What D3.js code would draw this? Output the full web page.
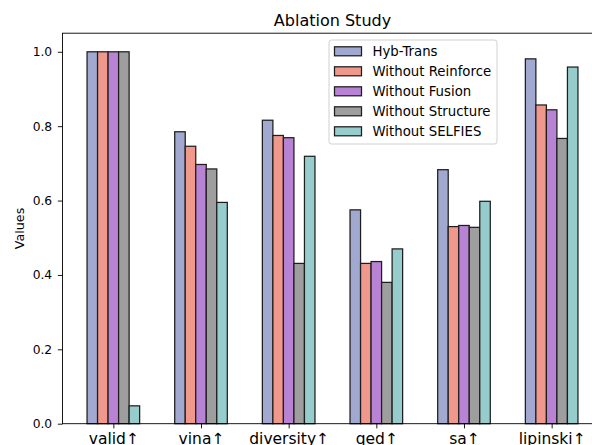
<!DOCTYPE html>
<html>
<head>
<meta charset="utf-8">
<script src="https://cdn.jsdelivr.net/npm/d3@7"></script>
<style>
  html, body { margin: 0; padding: 0; background: #fff; }
  svg { display: block; font-family: "DejaVu Sans", sans-serif; }
</style>
</head>
<body>
<svg id="chart" width="592" height="445"></svg>
<script>
const categories = ["valid↑", "vina↑", "diversity↑", "qed↑", "sa↑", "lipinski↑"];
const seriesNames = ["Hyb-Trans", "Without Reinforce", "Without Fusion", "Without Structure", "Without SELFIES"];
const hybTrans        = [1.000, 0.785, 0.816, 0.575, 0.683, 0.981];
const withoutReinforce= [1.000, 0.746, 0.775, 0.431, 0.530, 0.857];
const withoutFusion   = [1.000, 0.697, 0.769, 0.436, 0.533, 0.844];
const withoutStructure= [1.000, 0.685, 0.431, 0.380, 0.528, 0.767];
const withoutSelfies  = [0.048, 0.595, 0.719, 0.470, 0.598, 0.959];
const yTicks = [0.0, 0.2, 0.4, 0.6, 0.8, 1.0];
const colors = ["#A1A9D0", "#F0988C", "#B883D4", "#9E9E9E", "#96CCCB"];

const series = [hybTrans, withoutReinforce, withoutFusion, withoutStructure, withoutSelfies];
const barW = 0.12;

const svg = d3.select("#chart");
const mLeft = 62.5, mRight = 602.5, mTop = 33.2, mBottom = 423.7;

const x = d3.scaleLinear().domain([-0.58, categories.length - 1 + 0.58]).range([mLeft, mRight]);
const y = d3.scaleLinear().domain([0, 1.05]).range([mBottom, mTop]);

// bars
series.forEach((vals, si) => {
  svg.append("g").selectAll("rect")
    .data(vals)
    .join("rect")
    .attr("x", (d, i) => x(i + (si - 2) * barW - barW / 2))
    .attr("width", x(barW) - x(0))
    .attr("y", d => y(d))
    .attr("height", d => y(0) - y(d))
    .attr("fill", colors[si])
    .attr("stroke", "#1e1e1e")
    .attr("stroke-width", 1.25);
});

// axes
const yAxis = d3.axisLeft(y).tickValues(yTicks).tickFormat(d3.format(".1f")).tickSizeOuter(0).tickSize(4.7).tickPadding(5.6);
const gy = svg.append("g").attr("transform", `translate(${mLeft},0)`).call(yAxis);
gy.select(".domain").remove();
gy.selectAll("text").attr("font-size", "12.3px").attr("fill", "#000").attr("font-family", "DejaVu Sans, sans-serif");
gy.selectAll("line").attr("stroke", "#000").attr("stroke-width", 0.9);

const xAxis = d3.axisBottom(x).tickValues(d3.range(categories.length)).tickFormat(i => categories[i]).tickSizeOuter(0).tickSize(4.7).tickPadding(4.5);
const gx = svg.append("g").attr("transform", `translate(0,${mBottom})`).call(xAxis);
gx.select(".domain").remove();
gx.selectAll("text")
  .attr("font-size", "15.5px").attr("fill", "#000").attr("font-family", "DejaVu Sans, sans-serif")
  .attr("dy", null).attr("y", 20.5);
gx.selectAll("line").attr("stroke", "#000").attr("stroke-width", 0.9);

// frame
svg.append("rect")
  .attr("x", mLeft).attr("y", mTop)
  .attr("width", mRight - mLeft).attr("height", mBottom - mTop)
  .attr("fill", "none").attr("stroke", "#000").attr("stroke-width", 0.9);

// title
svg.append("text")
  .attr("x", (mLeft + mRight) / 2).attr("y", 25.5)
  .attr("text-anchor", "middle")
  .attr("font-size", "16px")
  .text("Ablation Study");

// y label
svg.append("text")
  .attr("transform", `translate(23.5,${(mTop + mBottom) / 2}) rotate(-90)`)
  .attr("text-anchor", "middle")
  .attr("font-size", "12.7px")
  .text("Values");

// legend
const lg = svg.append("g");
lg.append("rect")
  .attr("x", 329).attr("y", 40).attr("width", 168).attr("height", 104)
  .attr("rx", 2.5).attr("ry", 2.5)
  .attr("fill", "#fff").attr("fill-opacity", 0.8)
  .attr("stroke", "#d0d0d0").attr("stroke-width", 1);
seriesNames.forEach((name, i) => {
  const cy = 51.3 + i * 20;
  lg.append("rect")
    .attr("x", 334.5).attr("y", cy - 4.5).attr("width", 27).attr("height", 9)
    .attr("fill", colors[i]).attr("stroke", "#1e1e1e").attr("stroke-width", 1.25);
  lg.append("text")
    .attr("x", 372.5).attr("y", cy + 4.5)
    .attr("font-size", "13.3px")
    .text(name);
});
</script>
</body>
</html>
